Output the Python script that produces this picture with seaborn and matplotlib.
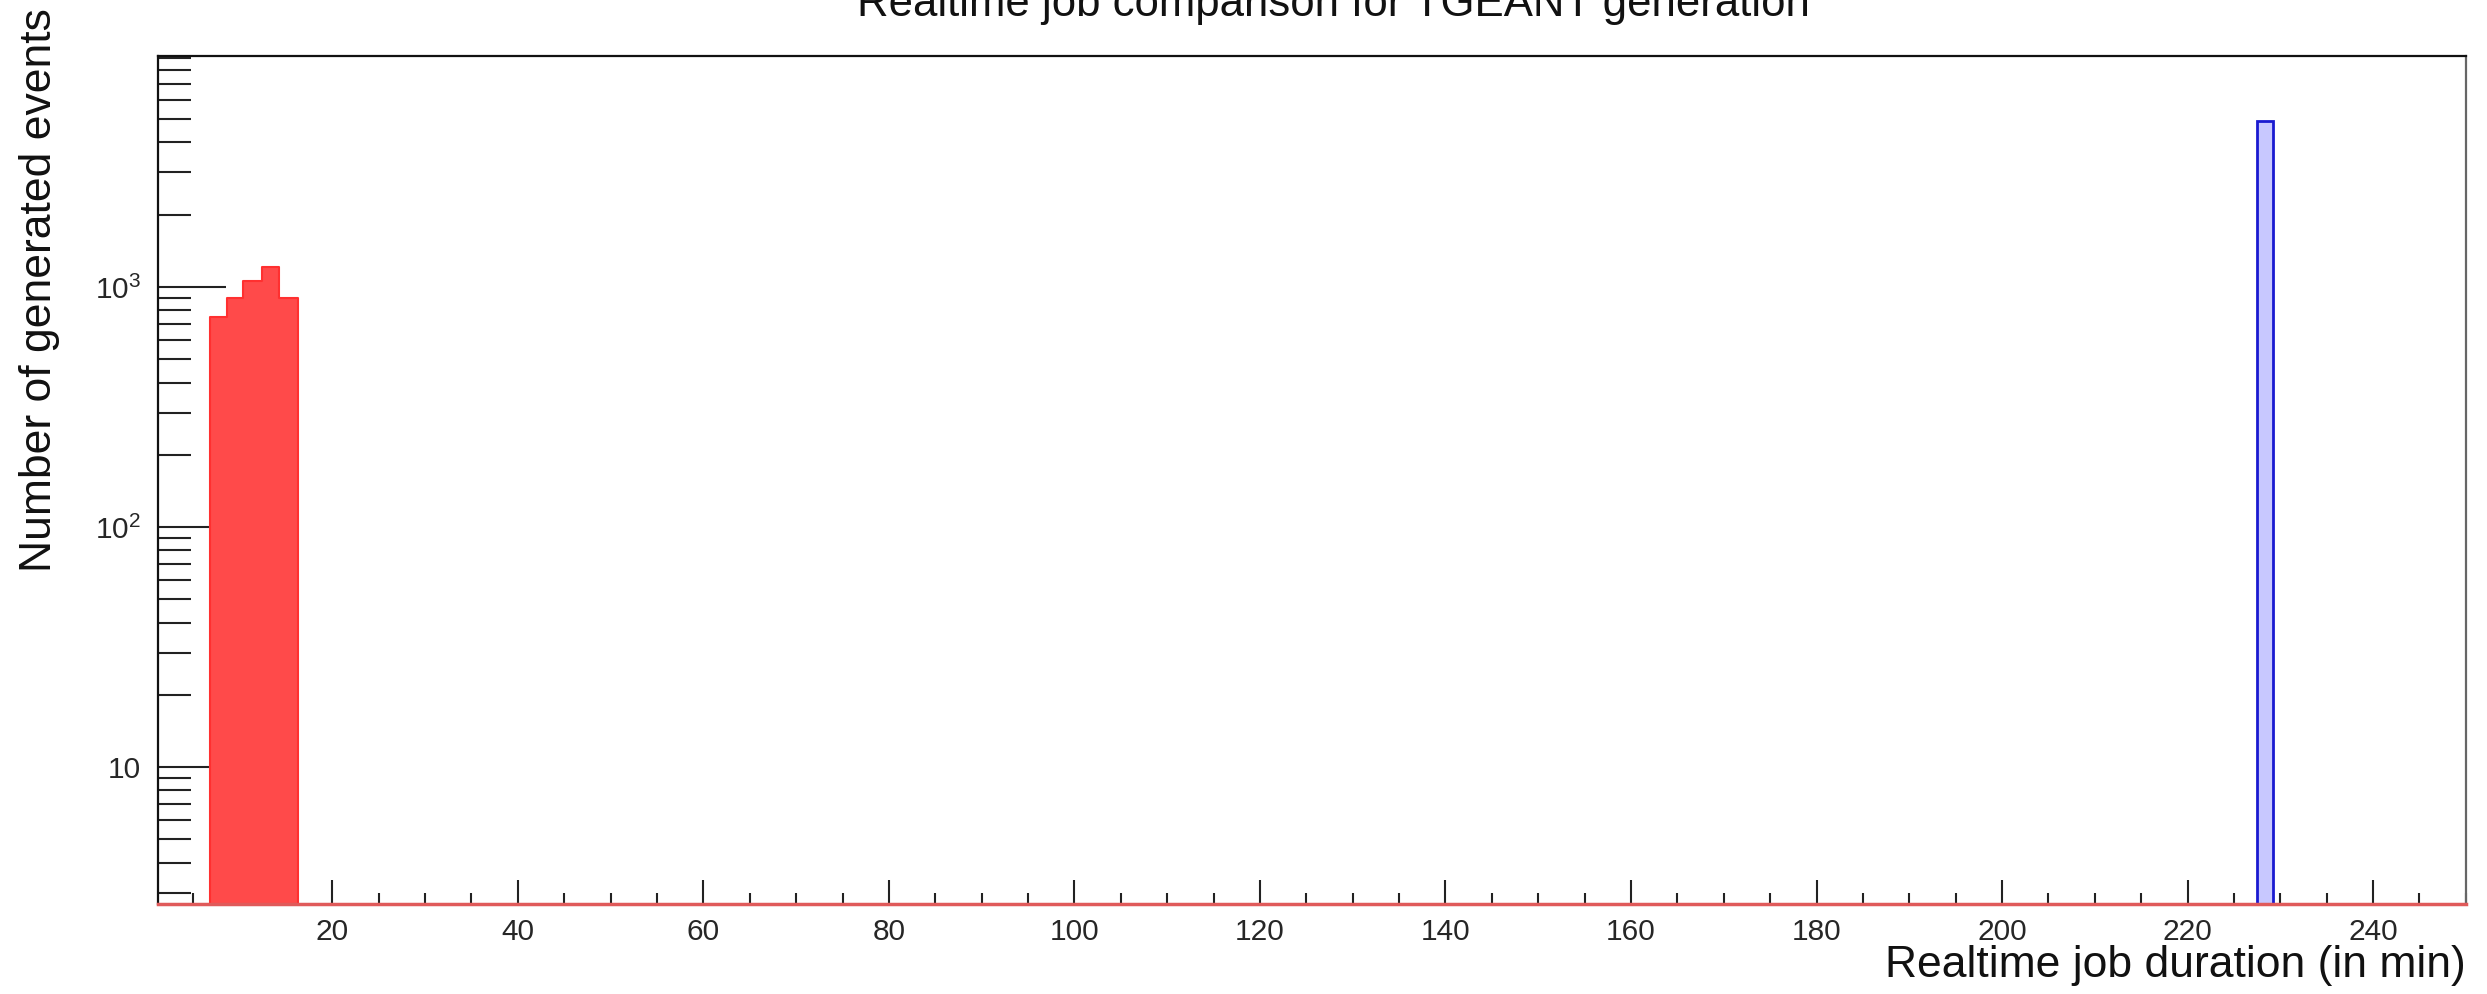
import numpy as np
import pandas as pd
import matplotlib
matplotlib.use("Agg")
import matplotlib.pyplot as plt
import seaborn as sns
from matplotlib.ticker import FixedLocator, MultipleLocator, LogLocator, NullFormatter

# TGEANT realtime job duration histograms
red_edges = [6.85, 8.6, 10.4, 12.4, 14.3, 16.3]
red_counts = [750, 900, 1060, 1210, 900]
blue_edges = [227.5, 229.2]
blue_counts = [4900]

x_range = (1.2, 250.0)
y_range = (2.69, 9170)
x_major = list(range(20, 241, 20))
y_major = [10, 100, 1000]
y_labels = ["10", "$10^2$", "$10^3$"]

sns.set_style("white")
plt.rcParams["font.family"] = ["Liberation Sans", "DejaVu Sans"]
plt.rcParams["mathtext.fontset"] = "custom"
plt.rcParams["mathtext.rm"] = "Liberation Sans"
plt.rcParams["mathtext.it"] = "Liberation Sans"

red_df = pd.DataFrame({
    "duration": [(a + b) / 2 for a, b in zip(red_edges[:-1], red_edges[1:])],
    "events": red_counts,
})
blue_df = pd.DataFrame({
    "duration": [(a + b) / 2 for a, b in zip(blue_edges[:-1], blue_edges[1:])],
    "events": blue_counts,
})

fig = plt.figure(figsize=(24.87, 9.94), dpi=100)
ax = fig.add_axes([0.0635, 0.0905, 0.928, 0.8532])

sns.histplot(data=red_df, x="duration", weights="events", bins=red_edges,
             element="step", fill=True, color="#ff4a4a", alpha=1.0,
             edgecolor="#ff3030", linewidth=1.5, ax=ax)
sns.histplot(data=blue_df, x="duration", weights="events", bins=blue_edges,
             element="bars", fill=True, color="#c8c8ff", alpha=1.0,
             edgecolor="#1a1ad0", linewidth=2.0, ax=ax)

ax.set_yscale("log")
ax.set_xlim(*x_range)
ax.set_ylim(*y_range)

ax.xaxis.set_major_locator(FixedLocator(x_major))
ax.xaxis.set_minor_locator(MultipleLocator(5))
ax.yaxis.set_major_locator(FixedLocator(y_major))
ax.set_yticklabels(y_labels)
ax.yaxis.set_minor_locator(LogLocator(base=10, subs=np.arange(2, 10)))
ax.yaxis.set_minor_formatter(NullFormatter())

ax.tick_params(which="both", bottom=True, left=True, top=False, right=False)
ax.tick_params(axis="x", which="major", direction="in", length=17, width=1.5,
               color="#222222", labelsize=21.5, pad=10)
ax.tick_params(axis="x", which="minor", direction="in", length=8, width=1.5,
               color="#222222")
ax.tick_params(axis="y", which="major", direction="in", length=49, width=1.5,
               color="#222222", labelsize=21.5, pad=12)
ax.tick_params(axis="y", which="minor", direction="in", length=24, width=1.5,
               color="#222222")

for side in ["left", "top"]:
    ax.spines[side].set_color("#111111")
    ax.spines[side].set_linewidth(1.6)
ax.spines["right"].set_color("#666666")
ax.spines["right"].set_linewidth(1.6)
ax.spines["bottom"].set_color("#e05a5a")
ax.spines["bottom"].set_linewidth(2.5)

ax.set_xlabel("")
ax.set_ylabel("")
fig.text(0.9916, 0.008, "Realtime job duration (in min)", ha="right",
         va="bottom", fontsize=32, color="#111111")
fig.text(0.016, 0.425, "Number of generated events", rotation=90, ha="center",
         va="bottom", fontsize=32, color="#111111")
fig.text(0.536, 0.984, "Realtime job comparison for TGEANT generation",
         ha="center", va="baseline", fontsize=31.5, color="#111111")

fig.savefig("out.png", dpi=100)
